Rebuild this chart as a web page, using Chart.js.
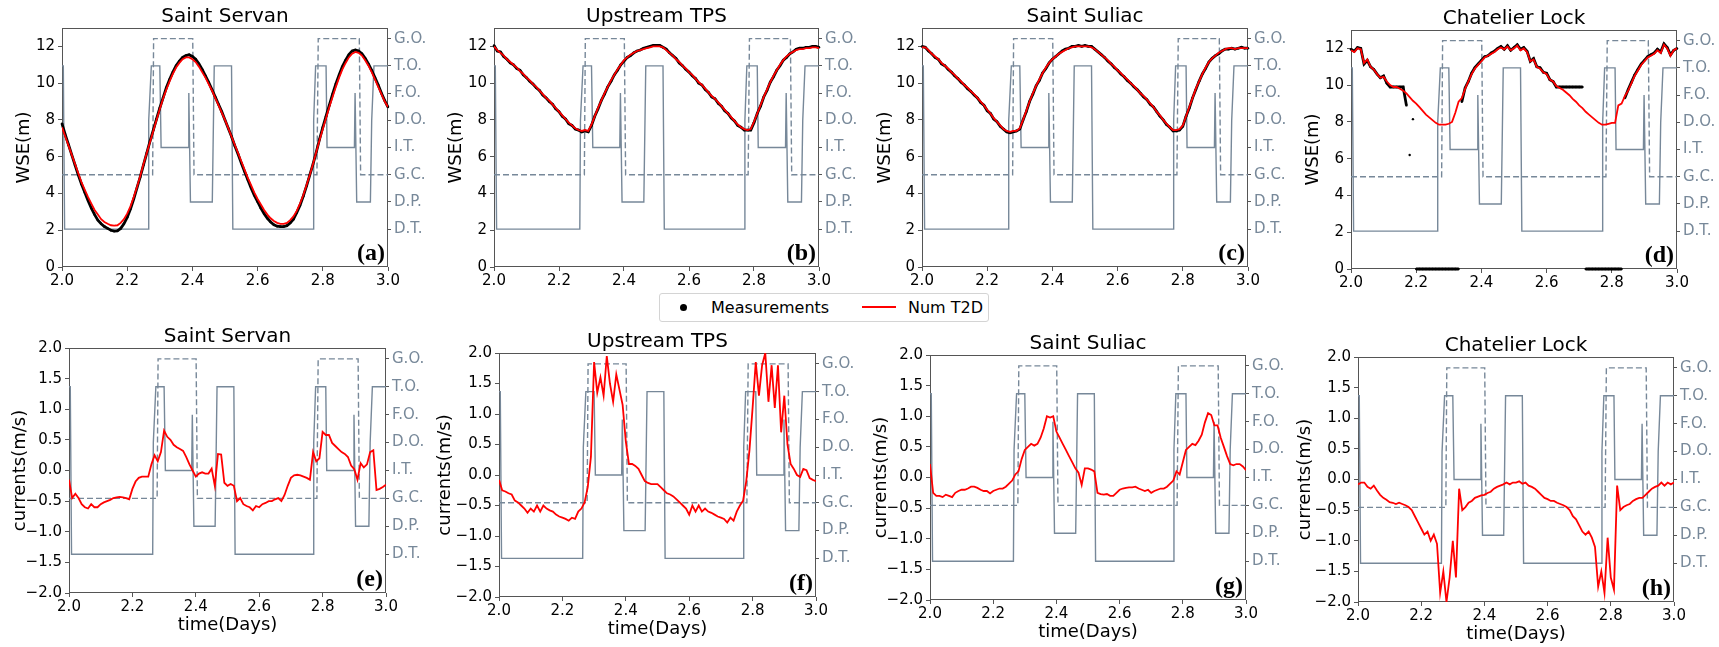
<!DOCTYPE html>
<html>
<head>
<meta charset="utf-8">
<script src="https://cdn.jsdelivr.net/npm/chart.js@4.4.0/dist/chart.umd.min.js"></script>
<style>
  body { margin: 0; background: #fff; width: 1719px; height: 647px; position: relative; overflow: hidden; font-family: "DejaVu Sans", sans-serif; }
  #legend { position: absolute; left: 659px; top: 293px; width: 328px; height: 27px; border: 1px solid #d4d4d4; border-radius: 3px; font-size: 16px; line-height: 27px; color: #000; }
  #legend span { position: absolute; }
</style>
</head>
<body>
<div id="legend">
  <span style="left:20px;top:10px;width:7px;height:7px;border-radius:50%;background:#000"></span>
  <span style="left:51px;top:0">Measurements</span>
  <span style="left:202px;top:12px;width:34px;height:2px;background:#ff0000"></span>
  <span style="left:248px;top:0">Num T2D</span>
</div>
<script>
// time axis (days)
const days = [
  2.00, 2.01, 2.02, 2.03, 2.04, 2.05, 2.06, 2.07, 2.08, 2.09,
  2.10, 2.11, 2.12, 2.13, 2.14, 2.15, 2.16, 2.17, 2.18, 2.19,
  2.20, 2.21, 2.22, 2.23, 2.24, 2.25, 2.26, 2.27, 2.28, 2.29,
  2.30, 2.31, 2.32, 2.33, 2.34, 2.35, 2.36, 2.37, 2.38, 2.39,
  2.40, 2.41, 2.42, 2.43, 2.44, 2.45, 2.46, 2.47, 2.48, 2.49,
  2.50, 2.51, 2.52, 2.53, 2.54, 2.55, 2.56, 2.57, 2.58, 2.59,
  2.60, 2.61, 2.62, 2.63, 2.64, 2.65, 2.66, 2.67, 2.68, 2.69,
  2.70, 2.71, 2.72, 2.73, 2.74, 2.75, 2.76, 2.77, 2.78, 2.79,
  2.80, 2.81, 2.82, 2.83, 2.84, 2.85, 2.86, 2.87, 2.88, 2.89,
  2.90, 2.91, 2.92, 2.93, 2.94, 2.95, 2.96, 2.97, 2.98, 2.99,
  3.00
];

const stations = ["Saint Servan", "Upstream TPS", "Saint Suliac", "Chatelier Lock"];
const modeLabels = ["D.T.", "D.P.", "G.C.", "I.T.", "D.O.", "F.O.", "T.O.", "G.O."];
const modeTicks = [0, 1, 2, 3, 4, 5, 6, 7];
const wseTicks = [0, 2, 4, 6, 8, 10, 12];
const curTicks = [-2, -1.5, -1, -0.5, 0, 0.5, 1, 1.5, 2];
const timeTicks = [2.0, 2.2, 2.4, 2.6, 2.8, 3.0];

// plant operating mode (solid) and gate state (dashed)
const lockDays = [2.000, 2.004, 2.008, 2.264, 2.266, 2.274, 2.300, 2.304, 2.387, 2.389, 2.394, 2.461, 2.467, 2.520,
  2.524, 2.770, 2.772, 2.778, 2.810, 2.813, 2.897, 2.899, 2.904, 2.946, 2.950, 2.957, 3.000];
const lockMode = [6, 6, 0, 0, 4, 6, 6, 3, 3, 5, 1, 1, 6, 6, 0, 0, 4, 6, 6, 3, 3, 5, 1, 1, 4, 6, 6];
const gateDays = [2.000, 2.278, 2.281, 2.401, 2.405, 2.782, 2.786, 2.912, 2.916, 3.000];
const gateMode = [2, 2, 7, 7, 2, 2, 7, 7, 2, 2];

// water surface elevation (m)
const wseMeasServan = [
  7.8, 7.2, 6.65, 6.1, 5.55, 5.0, 4.5, 4.05, 3.6, 3.2,
  2.85, 2.55, 2.35, 2.2, 2.1, 2.0, 1.95, 1.97, 2.1, 2.35,
  2.7, 3.15, 3.7, 4.3, 4.9, 5.55, 6.2, 6.85, 7.45, 8.05,
  8.65, 9.2, 9.75, 10.2, 10.6, 10.95, 11.2, 11.4, 11.5, 11.55,
  11.45, 11.3, 11.05, 10.75, 10.4, 10.05, 9.65, 9.25, 8.85, 8.45,
  8.0, 7.55, 7.1, 6.6, 6.15, 5.65, 5.2, 4.75, 4.3, 3.9,
  3.55, 3.2, 2.9, 2.65, 2.45, 2.3, 2.22, 2.2, 2.2, 2.25,
  2.4, 2.6, 2.95, 3.35, 3.85, 4.4, 5.0, 5.6, 6.25, 6.95,
  7.6, 8.2, 8.8, 9.4, 9.95, 10.45, 10.9, 11.25, 11.55, 11.75,
  11.8, 11.75, 11.6, 11.35, 11.05, 10.7, 10.3, 9.9, 9.45, 9.05,
  8.7
];
const wseModelServan = [
  7.6, 7.1, 6.6, 6.1, 5.6, 5.1, 4.6, 4.2, 3.8, 3.45,
  3.1, 2.85, 2.6, 2.45, 2.35, 2.27, 2.25, 2.27, 2.4, 2.6,
  2.9, 3.3, 3.8, 4.35, 4.95, 5.6, 6.2, 6.8, 7.4, 8.0,
  8.6, 9.15, 9.65, 10.1, 10.5, 10.85, 11.1, 11.3, 11.4, 11.4,
  11.3, 11.15, 10.9, 10.6, 10.3, 9.95, 9.6, 9.2, 8.8, 8.4,
  8.0, 7.55, 7.1, 6.65, 6.2, 5.75, 5.3, 4.85, 4.45, 4.05,
  3.7, 3.4, 3.1, 2.85, 2.65, 2.5, 2.4, 2.35, 2.35, 2.4,
  2.55, 2.75, 3.05, 3.45, 3.9, 4.45, 5.0, 5.6, 6.25, 6.9,
  7.5, 8.1, 8.7, 9.25, 9.8, 10.3, 10.75, 11.1, 11.4, 11.6,
  11.7, 11.65, 11.5, 11.25, 10.95, 10.6, 10.2, 9.8, 9.4, 9.0,
  8.7
];
const wseMeasTps = [
  12.05, 11.75, 11.7, 11.45, 11.3, 11.1, 11.0, 10.8, 10.7, 10.45,
  10.3, 10.1, 9.95, 9.75, 9.6, 9.35, 9.2, 9.0, 8.85, 8.6,
  8.45, 8.2, 8.05, 7.8, 7.7, 7.5, 7.45, 7.35, 7.4, 7.35,
  7.7, 8.2, 8.6, 9.05, 9.4, 9.8, 10.1, 10.45, 10.7, 11.0,
  11.2, 11.4, 11.5, 11.65, 11.75, 11.8, 11.9, 11.95, 12.0, 12.05,
  12.05, 12.05, 11.95, 11.85, 11.65, 11.5, 11.35, 11.1, 10.95, 10.75,
  10.6, 10.4, 10.25, 10.0, 9.9, 9.65, 9.5, 9.25, 9.15, 8.9,
  8.75, 8.5, 8.35, 8.1, 7.95, 7.7, 7.6, 7.45, 7.45, 7.45,
  7.85, 8.35, 8.75, 9.25, 9.6, 10.05, 10.35, 10.7, 10.95, 11.25,
  11.4, 11.6, 11.7, 11.85, 11.9, 11.9, 11.95, 11.95, 12.0, 12.0,
  11.95
];
const wseModelTps = [
  12.0, 11.8, 11.65, 11.5, 11.3, 11.15, 11.0, 10.85, 10.65, 10.5,
  10.3, 10.15, 9.95, 9.8, 9.6, 9.4, 9.2, 9.05, 8.85, 8.65,
  8.45, 8.25, 8.05, 7.85, 7.7, 7.55, 7.45, 7.4, 7.45, 7.4,
  7.75, 8.2, 8.65, 9.05, 9.45, 9.8, 10.15, 10.45, 10.75, 11.0,
  11.25, 11.4, 11.55, 11.65, 11.75, 11.8, 11.85, 11.9, 11.95, 12.0,
  12.0, 12.0, 11.95, 11.8, 11.65, 11.5, 11.3, 11.15, 10.95, 10.8,
  10.6, 10.45, 10.25, 10.05, 9.9, 9.7, 9.5, 9.3, 9.15, 8.95,
  8.75, 8.55, 8.35, 8.15, 7.95, 7.75, 7.6, 7.5, 7.45, 7.5,
  7.9, 8.35, 8.8, 9.25, 9.65, 10.05, 10.4, 10.7, 11.0, 11.25,
  11.45, 11.6, 11.7, 11.8, 11.85, 11.85, 11.9, 11.9, 11.95, 11.95,
  11.9
];
const wseMeasSuliac = [
  12.0, 11.95, 11.75, 11.6, 11.4, 11.3, 11.05, 10.95, 10.75, 10.6,
  10.4, 10.25, 10.05, 9.9, 9.7, 9.55, 9.35, 9.2, 8.95, 8.8,
  8.5, 8.35, 8.05, 7.9, 7.65, 7.5, 7.35, 7.3, 7.35, 7.4,
  7.5, 8.0, 8.45, 9.0, 9.4, 9.85, 10.15, 10.55, 10.8, 11.1,
  11.3, 11.45, 11.6, 11.75, 11.85, 11.9, 12.0, 12.0, 12.05, 12.0,
  12.05, 12.0, 12.0, 11.85, 11.7, 11.55, 11.4, 11.2, 11.05, 10.85,
  10.7, 10.5, 10.35, 10.15, 10.0, 9.8, 9.65, 9.45, 9.25, 9.1,
  8.85, 8.7, 8.45, 8.2, 8.0, 7.75, 7.6, 7.4, 7.4, 7.45,
  7.65, 8.2, 8.65, 9.2, 9.65, 10.1, 10.5, 10.8, 11.15, 11.35,
  11.5, 11.6, 11.75, 11.85, 11.85, 11.9, 11.85, 11.9, 11.95, 11.9,
  11.9
];
const wseModelSuliac = [
  11.95, 11.95, 11.8, 11.6, 11.45, 11.3, 11.1, 10.95, 10.8, 10.6,
  10.45, 10.25, 10.1, 9.9, 9.75, 9.55, 9.4, 9.2, 9.0, 8.8,
  8.55, 8.35, 8.1, 7.9, 7.7, 7.5, 7.4, 7.35, 7.4, 7.4,
  7.55, 8.0, 8.5, 9.0, 9.45, 9.85, 10.2, 10.55, 10.85, 11.1,
  11.3, 11.45, 11.6, 11.7, 11.8, 11.9, 11.95, 12.0, 12.0, 12.0,
  12.0, 12.0, 11.95, 11.85, 11.7, 11.55, 11.4, 11.25, 11.05, 10.9,
  10.7, 10.55, 10.35, 10.2, 10.0, 9.85, 9.65, 9.45, 9.3, 9.1,
  8.9, 8.7, 8.45, 8.25, 8.0, 7.8, 7.6, 7.45, 7.45, 7.5,
  7.7, 8.2, 8.7, 9.2, 9.7, 10.1, 10.5, 10.85, 11.15, 11.35,
  11.5, 11.65, 11.75, 11.85, 11.9, 11.9, 11.85, 11.9, 11.9, 11.9,
  11.9
];
const wseMeasLock = [
  11.95, 11.85, 12.05, 12.0, 11.15, 11.35, 11.0, 10.85, 10.6, 10.4,
  10.5, 10.1, 9.9, 9.9, 9.9, 9.9, 9.9, 8.9, 6.2, 8.15,
  0, 0, 0, 0, 0, 0, 0, 0, 0, 0,
  0, 0, 0, 0, 9.1, 9.85, 10.2, 10.65, 10.95, 11.15,
  11.35, 11.55, 11.6, 11.75, 11.85, 12.0, 12.1, 11.95, 12.15, 11.9,
  12.05, 12.2, 11.95, 12.05, 11.85, 11.3, 11.45, 11.0, 10.95, 10.7,
  10.65, 10.3, 10.2, 9.9, 9.9, 9.9, 9.9, 9.9, 9.9, 9.9,
  9.9, 9.9, 0, 0, 0, 0, 0, 0, 0, 0,
  0, 0, 0, 0, 9.3, 9.75, 10.15, 10.55, 10.85, 11.15,
  11.35, 11.55, 11.65, 11.75, 11.95, 11.8, 12.25, 12.05, 11.65, 11.9,
  12.0
];
const wseModelLock = [
  11.9, 11.8, 12.0, 11.95, 11.2, 11.4, 11.0, 10.85, 10.6, 10.4,
  10.45, 10.2, 10.0, 9.9, 9.9, 9.8, 9.7, 9.55, 9.35, 9.15,
  9.0, 8.8, 8.6, 8.4, 8.25, 8.1, 7.95, 7.85, 7.85, 7.85,
  7.9, 8.0, 8.5, 9.1, 9.3, 9.8, 10.2, 10.6, 10.9, 11.1,
  11.3, 11.5, 11.6, 11.7, 11.8, 11.95, 12.05, 11.95, 12.1, 11.9,
  12.0, 12.15, 11.9, 12.0, 11.8, 11.3, 11.4, 11.0, 10.9, 10.7,
  10.6, 10.3, 10.2, 9.95, 9.85, 9.75, 9.6, 9.45, 9.25, 9.1,
  8.9, 8.75, 8.55, 8.4, 8.25, 8.1, 7.95, 7.85, 7.85, 7.9,
  7.95, 7.95, 8.9, 9.0, 9.4, 9.7, 10.1, 10.5, 10.8, 11.1,
  11.3, 11.5, 11.6, 11.7, 11.9, 11.75, 12.2, 12.0, 11.6, 11.9,
  12.0
];

// depth-averaged currents (m/s), model
const curServan = [
  -0.15, -0.45, -0.38, -0.45, -0.55, -0.6, -0.62, -0.55, -0.6, -0.6,
  -0.55, -0.52, -0.5, -0.48, -0.45, -0.44, -0.43, -0.44, -0.45, -0.47,
  -0.3, -0.18, -0.12, -0.1, -0.1, -0.1, 0.1, 0.25, 0.15, 0.3,
  0.65, 0.55, 0.5, 0.42, 0.38, 0.35, 0.32, 0.22, 0.1, 0.0,
  -0.1, -0.05, -0.03, -0.05, -0.05, 0.03, -0.25, 0.27, 0.26, -0.2,
  -0.25, -0.22, -0.25, -0.5, -0.45, -0.55, -0.58, -0.6, -0.65, -0.58,
  -0.6, -0.55, -0.53, -0.5, -0.5, -0.47, -0.45, -0.5, -0.4, -0.25,
  -0.12, -0.08, -0.07, -0.08, -0.1, -0.12, -0.15, 0.3, 0.15, 0.2,
  0.63, 0.58, 0.58, 0.45, 0.4, 0.35, 0.3, 0.27, 0.22, 0.08,
  0.02, -0.15, 0.12, 0.05, 0.1, 0.3, 0.33, -0.32, -0.3, -0.27,
  -0.23
];
const curTps = [
  -0.08, -0.25, -0.27, -0.3, -0.32, -0.42, -0.45, -0.5, -0.55, -0.62,
  -0.55, -0.6, -0.5, -0.6, -0.5, -0.55, -0.58, -0.6, -0.65, -0.68,
  -0.7, -0.72, -0.75, -0.7, -0.72, -0.6, -0.55, -0.45, -0.2, 0.3,
  1.85, 1.35, 1.6, 1.3, 1.95, 1.5, 1.2, 1.65, 1.4, 1.15,
  0.55, 0.18, 0.18, 0.15, 0.1, 0.0, -0.1, -0.13, -0.15, -0.15,
  -0.15, -0.2, -0.25, -0.3, -0.32, -0.35, -0.4, -0.45, -0.5, -0.55,
  -0.65, -0.5, -0.6, -0.5, -0.6, -0.55, -0.6, -0.62, -0.65, -0.68,
  -0.7, -0.72, -0.78, -0.7, -0.75, -0.6, -0.5, -0.42, -0.1, 0.4,
  1.1, 1.85, 1.3, 1.8, 2.0, 1.2, 1.8, 1.1, 1.8, 0.7,
  1.3, 0.5, 0.18, 0.1, 0.0, -0.03, 0.1, 0.08, -0.05, -0.08,
  -0.1
];
const curSuliac = [
  0.22, -0.25, -0.3, -0.3, -0.32, -0.28, -0.3, -0.32, -0.25, -0.22,
  -0.2, -0.2, -0.18, -0.15, -0.15, -0.17, -0.2, -0.22, -0.22, -0.26,
  -0.22, -0.2, -0.18, -0.18, -0.15, -0.1, -0.05, 0.05, 0.1, 0.3,
  0.45, 0.5, 0.55, 0.52, 0.55, 0.65, 0.8, 1.0, 0.98, 1.0,
  0.75, 0.65, 0.55, 0.45, 0.35, 0.25, 0.15, 0.08, -0.12, 0.15,
  0.15, 0.13, 0.1, -0.25, -0.27, -0.28, -0.27, -0.3, -0.3, -0.25,
  -0.2, -0.18, -0.17, -0.16, -0.16, -0.15, -0.18, -0.2, -0.22, -0.2,
  -0.25, -0.22, -0.2, -0.18, -0.18, -0.15, -0.1, -0.05, 0.1, 0.05,
  0.25, 0.45, 0.5, 0.55, 0.53, 0.6, 0.7, 0.9, 1.05, 1.02,
  0.85, 0.85, 0.65, 0.5, 0.35, 0.22, 0.2, 0.22, 0.22, 0.18,
  0.12
];
const curLock = [
  -0.08, -0.05, -0.05, -0.12, -0.15, -0.1, -0.18, -0.25, -0.3, -0.33,
  -0.37, -0.38, -0.4, -0.38, -0.4, -0.42, -0.45, -0.5, -0.6, -0.7,
  -0.8, -0.9, -0.85, -1.0, -0.9, -1.05, -1.85, -1.5, -2.0, -1.6,
  -1.0, -1.6, -0.15, -0.5, -0.45, -0.38, -0.35, -0.3, -0.28, -0.26,
  -0.25, -0.22, -0.2, -0.15, -0.12, -0.1, -0.08, -0.05, -0.08, -0.05,
  -0.05, -0.03, -0.07, -0.05, -0.1, -0.12, -0.15, -0.2, -0.25, -0.3,
  -0.32, -0.35, -0.35, -0.38, -0.4, -0.42, -0.45, -0.5, -0.6, -0.65,
  -0.75, -0.85, -0.9, -0.85, -0.95, -1.1, -1.75, -1.5, -1.85, -0.95,
  -1.6, -1.8, -0.1, -0.5, -0.45, -0.42, -0.4, -0.35, -0.32, -0.3,
  -0.3, -0.25, -0.2, -0.15, -0.12, -0.1, -0.05, -0.1, -0.05, -0.08,
  -0.05
];

Chart.defaults.font.family = '"DejaVu Sans", sans-serif';
Chart.defaults.color = "#000";

const GRAY = "#778899";
const FRAME = "#555555";

const pts = (xs, ys) => xs.map((x, i) => ({ x: x, y: ys[i] }));
const fmt = (v) => (v < -1e-9 ? "\u2212" : "") + Math.abs(v).toFixed(1);

// frame under the data, station title and panel letter on top
const panelDecor = {
  id: "panelDecor",
  beforeDatasetsDraw(chart) {
    const { ctx, chartArea: a } = chart;
    ctx.save();
    ctx.strokeStyle = FRAME;
    ctx.lineWidth = 1;
    ctx.strokeRect(Math.round(a.left) + 0.5, Math.round(a.top) + 0.5, Math.round(a.width) - 1, Math.round(a.height) - 1);
    ctx.restore();
  },
  afterDraw(chart, args, opts) {
    const { ctx, chartArea: a } = chart;
    ctx.save();
    ctx.fillStyle = "#000";
    ctx.font = '20px "DejaVu Sans"';
    ctx.textAlign = "center";
    ctx.textBaseline = "alphabetic";
    ctx.fillText(opts.title, (a.left + a.right) / 2, a.top - 6);
    ctx.font = 'bold 24px "Liberation Serif"';
    ctx.textAlign = "right";
    ctx.fillText(opts.letter, a.right - 3, a.bottom - 7);
    ctx.restore();
  },
};

const panels = [
  { row: 0, x: 62, y: 28, w: 326, h: 239, gap: 37.5, title: stations[0], letter: "(a)", model: wseModelServan, meas: wseMeasServan },
  { row: 0, x: 494, y: 28, w: 325, h: 239, gap: 38, title: stations[1], letter: "(b)", model: wseModelTps, meas: wseMeasTps },
  { row: 0, x: 922, y: 28, w: 326, h: 239, gap: 37, title: stations[2], letter: "(c)", model: wseModelSuliac, meas: wseMeasSuliac },
  { row: 0, x: 1351, y: 30, w: 326, h: 239, gap: 37.5, title: stations[3], letter: "(d)", model: wseModelLock, meas: wseMeasLock },
  { row: 1, x: 69, y: 348, w: 317, h: 245, gap: 49, title: stations[0], letter: "(e)", model: curServan },
  { row: 1, x: 499, y: 353, w: 317, h: 244, gap: 54, title: stations[1], letter: "(f)", model: curTps },
  { row: 1, x: 930, y: 355, w: 316, h: 245, gap: 49, title: stations[2], letter: "(g)", model: curSuliac },
  { row: 1, x: 1358, y: 357, w: 316, h: 245, gap: 53, title: stations[3], letter: "(h)", model: curLock },
];

function makePanel(p) {
  const top = p.row === 0;
  const L = 72, R = 60, T = 30, B = top ? 30 : 50;
  const W = p.w + L + R, H = p.h + T + B;
  const cv = document.createElement("canvas");
  cv.width = W;
  cv.height = H;
  cv.style.cssText = `position:absolute;left:${p.x - L}px;top:${p.y - T}px;width:${W}px;height:${H}px`;
  document.body.appendChild(cv);

  const datasets = [
    { data: pts(days, p.model), borderColor: "#ff0000", borderWidth: 1.8, pointRadius: 0, order: 1 },
  ];
  if (p.meas) {
    datasets.push({
      data: pts(days, p.meas), borderColor: "#000", backgroundColor: "#000", borderWidth: 2.8,
      pointRadius: 1.2, pointBorderWidth: 0, order: 2, clip: false,
      segment: { borderColor: (c) => (Math.abs(c.p1.parsed.y - c.p0.parsed.y) > 1.5 ? "rgba(0,0,0,0)" : undefined) },
    });
  }
  datasets.push({ data: pts(gateDays, gateMode), yAxisID: "y2", borderColor: GRAY, borderWidth: 1.4, borderDash: [6, 3], pointRadius: 0, order: 3 });
  datasets.push({ data: pts(lockDays, lockMode), yAxisID: "y2", borderColor: GRAY, borderWidth: 1.4, pointRadius: 0, order: 4 });

  new Chart(cv, {
    type: "line",
    data: { datasets: datasets },
    plugins: [panelDecor],
    options: {
      responsive: false,
      animation: false,
      devicePixelRatio: 1,
      events: [],
      layout: { padding: { top: T, left: 0, right: 0, bottom: 0 } },
      plugins: {
        legend: { display: false },
        tooltip: { enabled: false },
        panelDecor: { title: p.title, letter: p.letter },
      },
      scales: {
        x: {
          type: "linear", min: 2, max: 3,
          afterBuildTicks: (s) => { s.ticks = timeTicks.map((v) => ({ value: v })); },
          afterFit: (s) => { s.height = B; },
          ticks: { callback: (v) => v.toFixed(1), font: { size: 15 }, padding: 1, maxRotation: 0, autoSkip: false },
          grid: { drawOnChartArea: false, tickLength: 4, color: FRAME },
          border: { display: false },
          title: { display: !top, text: "time(Days)", font: { size: 18 }, padding: { top: 0, bottom: 7 } },
        },
        y: {
          position: "left",
          min: top ? 0 : -2, max: top ? 13 : 2,
          afterBuildTicks: (s) => { s.ticks = (top ? wseTicks : curTicks).map((v) => ({ value: v })); },
          afterFit: (s) => { s.width = L; },
          ticks: { callback: top ? (v) => String(v) : fmt, font: { size: 15 }, padding: 3 },
          grid: { drawOnChartArea: false, tickLength: 4, color: FRAME },
          border: { display: false },
          title: { display: true, text: top ? "WSE(m)" : "currents(m/s)", font: { size: 18 }, padding: { top: L - p.gap - 10.8, bottom: 0 } },
        },
        y2: {
          position: "right",
          min: -1.39, max: 7.39,
          afterBuildTicks: (s) => { s.ticks = modeTicks.map((v) => ({ value: v })); },
          afterFit: (s) => { s.width = R; },
          ticks: { callback: (v) => modeLabels[v], color: GRAY, font: { size: 15 }, padding: 3 },
          grid: { drawOnChartArea: false, tickLength: 3, color: FRAME },
          border: { display: false },
        },
      },
    },
  });
}

panels.forEach(makePanel);
</script>
</body>
</html>
